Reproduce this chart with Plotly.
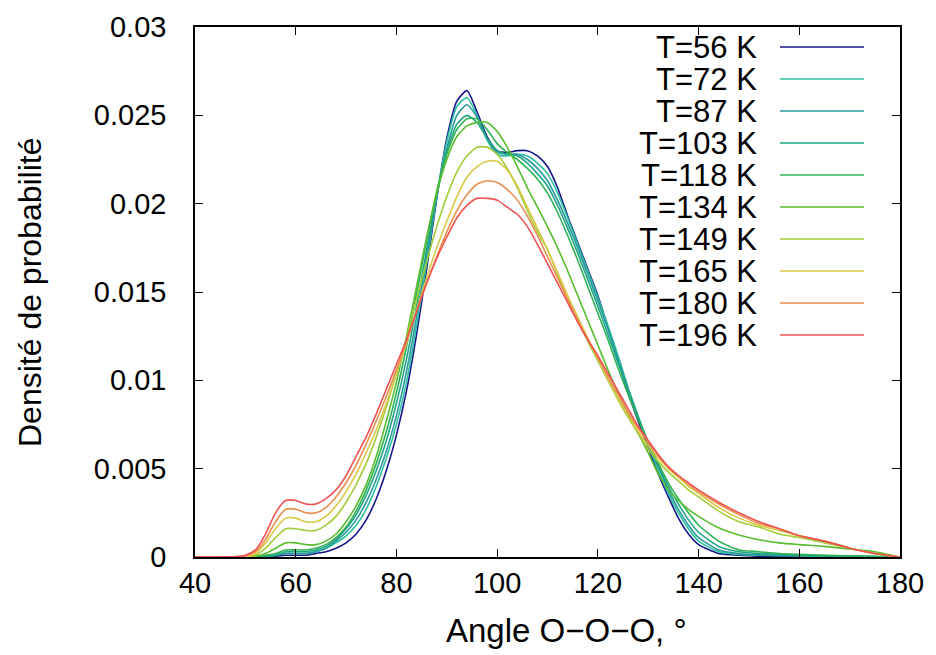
import plotly.graph_objects as go

# Angle grid (degrees)
angles = [40, 45, 48, 50, 52, 54, 56, 58, 60, 62, 64, 66, 68, 70, 72, 74, 76, 78, 80,
          82, 84, 86, 88, 90, 92, 94, 96, 98, 100, 102, 104, 106, 108, 110, 112, 114,
          116, 118, 120, 122, 124, 126, 128, 130, 132, 134, 136, 138, 140, 144, 148,
          152, 156, 160, 165, 170, 175, 180]

labels = ["T=56 K", "T=72 K", "T=87 K", "T=103 K", "T=118 K",
          "T=134 K", "T=149 K", "T=165 K", "T=180 K", "T=196 K"]
colors = ["#15158c", "#2cc0a0", "#2a9a9c", "#20a585", "#2fb256",
          "#58bd2e", "#a2cc3a", "#d8c846", "#ea8f4f", "#ef5252"]

t56 = [0, 0, 0, 0, 0, 0, 0.00005, 0.0001, 0.0001, 0.0001, 0.0002, 0.0003, 0.0005, 0.0008, 0.0013,
       0.0021, 0.0033, 0.0049, 0.0069, 0.0094, 0.0126, 0.0163, 0.0203, 0.0237, 0.0258, 0.0264,
       0.0252, 0.0238, 0.0230, 0.0229, 0.0230, 0.0230, 0.0227, 0.0221, 0.0209, 0.0193, 0.0178,
       0.0163, 0.0148, 0.0130, 0.0112, 0.0093, 0.0077, 0.0062, 0.0047, 0.0034, 0.0022, 0.0013,
       0.0007, 0.0002, 0.0001, 0.00005, 0.00003, 0.00002, 0.00001, 0, 0, 0]
t72 = [0, 0, 0, 0, 0, 0.00002, 0.0001, 0.0002, 0.0002, 0.0002, 0.0003, 0.0005, 0.0008, 0.0012,
       0.0018, 0.0027, 0.0040, 0.0056, 0.0075, 0.0099, 0.0131, 0.0166, 0.0204, 0.0235, 0.0255,
       0.0260, 0.0250, 0.0236, 0.0228, 0.0227, 0.0228, 0.0227, 0.0223, 0.0217, 0.0206, 0.0192,
       0.0177, 0.0162, 0.0147, 0.0131, 0.0114, 0.0096, 0.0080, 0.0064, 0.0049, 0.0036, 0.0025,
       0.0016, 0.0009, 0.0003, 0.00015, 0.0001, 0.00008, 0.00006, 0.00004, 0.00002, 0.00001, 0]
t87 = [0, 0, 0, 0, 0, 0, 0.0001, 0.0002, 0.0002, 0.0002, 0.0003, 0.0005, 0.0009, 0.0014,
       0.0021, 0.0031, 0.0044, 0.0060, 0.0080, 0.0105, 0.0136, 0.0170, 0.0204, 0.0231, 0.0250,
       0.0256, 0.0249, 0.0237, 0.0229, 0.0228, 0.0228, 0.0225, 0.0220, 0.0213, 0.0202, 0.0189,
       0.0175, 0.0160, 0.0145, 0.0129, 0.0112, 0.0095, 0.0079, 0.0064, 0.0051, 0.0038, 0.0027,
       0.0018, 0.0011, 0.0004, 0.0002, 0.00012, 0.0001, 0.00008, 0.00006, 0.00004, 0.00002, 0]
t103 = [0, 0, 0, 0, 0, 0.00005, 0.0001, 0.0003, 0.0003, 0.0003, 0.0004, 0.0006, 0.0010, 0.0016,
        0.0024, 0.0035, 0.0049, 0.0066, 0.0087, 0.0112, 0.0142, 0.0174, 0.0205, 0.0229, 0.0245,
        0.0250, 0.0246, 0.0237, 0.0230, 0.0228, 0.0227, 0.0223, 0.0217, 0.0210, 0.0199, 0.0186,
        0.0172, 0.0157, 0.0142, 0.0126, 0.0110, 0.0094, 0.0079, 0.0065, 0.0052, 0.0040, 0.0030,
        0.0021, 0.0014, 0.0006, 0.0003, 0.0002, 0.00015, 0.0001, 0.00008, 0.00005, 0.00002, 0]
t118 = [0, 0, 0, 0, 0, 0.0001, 0.0002, 0.0004, 0.0004, 0.0004, 0.0005, 0.0007, 0.0011, 0.0017,
        0.0026, 0.0038, 0.0053, 0.0071, 0.0093, 0.0119, 0.0149, 0.0179, 0.0207, 0.0228, 0.0242,
        0.0248, 0.0248, 0.0242, 0.0234, 0.0229, 0.0225, 0.0220, 0.0214, 0.0206, 0.0195, 0.0182,
        0.0168, 0.0153, 0.0138, 0.0123, 0.0107, 0.0092, 0.0078, 0.0065, 0.0053, 0.0042, 0.0033,
        0.0025, 0.0018, 0.0009, 0.0004, 0.0003, 0.0002, 0.00015, 0.0001, 0.00007, 0.00003, 0]
t134 = [0, 0, 0, 0, 0.00005, 0.0002, 0.0005, 0.0008, 0.0008, 0.0007, 0.0007, 0.0009, 0.0013, 0.0020,
        0.0029, 0.0041, 0.0057, 0.0077, 0.0099, 0.0125, 0.0153, 0.0181, 0.0206, 0.0225, 0.0238,
        0.0244, 0.0246, 0.0246, 0.0241, 0.0232, 0.0221, 0.0209, 0.0198, 0.0187, 0.0175, 0.0162,
        0.0148, 0.0134, 0.0120, 0.0106, 0.0093, 0.0081, 0.0070, 0.0059, 0.0047, 0.0038, 0.0032,
        0.0027, 0.0023, 0.00165, 0.00125, 0.00098, 0.0008, 0.0007, 0.0006, 0.00045, 0.0003, 0]
t149 = [0, 0, 0, 0, 0.0001, 0.0005, 0.0011, 0.0016, 0.0016, 0.0015, 0.0015, 0.0018, 0.0023, 0.0031,
        0.0041, 0.0053, 0.0068, 0.0085, 0.0104, 0.0124, 0.0146, 0.0167, 0.0187, 0.0204, 0.0218,
        0.0227, 0.0232, 0.0232, 0.0228, 0.0220, 0.0209, 0.0196, 0.0184, 0.0174, 0.0160, 0.0146,
        0.0134, 0.0122, 0.0111, 0.0100, 0.0089, 0.0079, 0.0070, 0.0061, 0.0054, 0.0048, 0.0043,
        0.0038, 0.0034, 0.0026, 0.0020, 0.0017, 0.0013, 0.0011, 0.0008, 0.0005, 0.0002, 0]
t165 = [0, 0, 0, 0, 0.0002, 0.0008, 0.0016, 0.0022, 0.0022, 0.0020, 0.0020, 0.0023, 0.0029, 0.0037,
        0.0047, 0.0059, 0.0072, 0.0087, 0.0104, 0.0121, 0.0140, 0.0158, 0.0175, 0.0190, 0.0204,
        0.0215, 0.0221, 0.0224, 0.0224, 0.0219, 0.0210, 0.0198, 0.0186, 0.0174, 0.0161, 0.0148,
        0.0136, 0.0124, 0.0112, 0.0101, 0.0090, 0.0080, 0.0071, 0.0063, 0.0056, 0.0050, 0.0045,
        0.0040, 0.0036, 0.0028, 0.0022, 0.0018, 0.0015, 0.0012, 0.0009, 0.0005, 0.0002, 0]
t180 = [0, 0, 0, 0.00005, 0.0003, 0.0010, 0.0020, 0.0027, 0.0027, 0.0025, 0.0025, 0.0028, 0.0034, 0.0042,
        0.0052, 0.0064, 0.0077, 0.0091, 0.0106, 0.0122, 0.0139, 0.0155, 0.0170, 0.0184, 0.0196,
        0.0205, 0.0211, 0.0213, 0.0212, 0.0208, 0.0202, 0.0193, 0.0182, 0.0170, 0.0158, 0.0146,
        0.0134, 0.0123, 0.0113, 0.0102, 0.0092, 0.0082, 0.0073, 0.0065, 0.0057, 0.0051, 0.0046,
        0.0041, 0.0037, 0.0030, 0.0024, 0.0019, 0.0016, 0.0012, 0.0009, 0.0005, 0.0002, 0]
t196 = [0, 0, 0.00002, 0.0001, 0.0004, 0.0013, 0.0025, 0.0032, 0.0032, 0.0030, 0.0030, 0.0033, 0.0038, 0.0046,
        0.0057, 0.0068, 0.0081, 0.0095, 0.0109, 0.0123, 0.0139, 0.0155, 0.0169, 0.0181, 0.0192,
        0.0199, 0.0203, 0.0203, 0.0202, 0.0198, 0.0194, 0.0187, 0.0177, 0.0166, 0.0155, 0.0144,
        0.0133, 0.0123, 0.0114, 0.0104, 0.0094, 0.0084, 0.0074, 0.0066, 0.0058, 0.0051, 0.0046,
        0.0042, 0.0038, 0.0031, 0.0025, 0.0020, 0.0016, 0.0012, 0.0009, 0.0005, 0.0002, 0]

series = [t56, t72, t87, t103, t118, t134, t149, t165, t180, t196]

x_ticks = [40, 60, 80, 100, 120, 140, 160, 180]
y_ticks = [0, 0.005, 0.01, 0.015, 0.02, 0.025, 0.03]
y_ticktext = ["0", "0.005", "0.01", "0.015", "0.02", "0.025", "0.03"]

FONT = "Liberation Sans, Arial, sans-serif"
FS_TICK = 29
FS_TEXT = 32
FS_KEY = 31

fig = go.Figure()
for name, ys, col in zip(labels, series, colors):
    fig.add_trace(go.Scatter(x=angles, y=ys, mode="lines", name=name,
                             line=dict(color=col, width=1.6, shape="spline", smoothing=0.6),
                             showlegend=False))

# geometry in pixels
W, H = 936, 655
L, R, T, B = 195, 900, 27, 557
pw, ph = R - L, B - T

def px(x):
    return (x - L) / pw

def py(y):
    return (B - y) / ph

# gnuplot style key: right-aligned text, sample line on the right
shapes = []
annotations = []
row0, dy = 47, 32
for i, (name, col) in enumerate(zip(labels, colors)):
    yy = row0 + i * dy
    annotations.append(dict(x=px(758), y=py(yy), xref="paper", yref="paper",
                            text=name, showarrow=False, xanchor="right", yanchor="middle",
                            height=30, borderpad=0,
                            font=dict(family=FONT, size=FS_KEY, color="black")))
    shapes.append(dict(type="line", xref="paper", yref="paper",
                       x0=px(780), x1=px(864), y0=py(yy), y1=py(yy),
                       line=dict(color=col, width=1.6)))

annotations.append(dict(x=px(30), y=py(292), xref="paper", yref="paper",
                        text="Densité de probabilité", textangle=-90, showarrow=False,
                        xanchor="center", yanchor="middle",
                        font=dict(family=FONT, size=FS_TEXT, color="black")))
annotations.append(dict(x=px(566), y=py(630), xref="paper", yref="paper",
                        text="Angle O\u2212O\u2212O, °", showarrow=False,
                        xanchor="center", yanchor="middle",
                        font=dict(family=FONT, size=33, color="black")))

fig.update_layout(
    width=W, height=H,
    margin=dict(l=L, r=W - R, t=T, b=H - B, pad=0, autoexpand=False),
    paper_bgcolor="white", plot_bgcolor="white",
    font=dict(family=FONT, size=FS_TICK, color="black"),
    shapes=shapes, annotations=annotations,
    showlegend=False,
)
fig.update_xaxes(range=[40, 180], tickvals=x_ticks, ticks="inside", ticklen=8,
                 tickwidth=1.3, tickcolor="black", showline=True, linecolor="black",
                 linewidth=1.5, mirror="ticks", showgrid=False, zeroline=False,
                 ticklabelstandoff=-1, automargin=False)
fig.update_yaxes(range=[0, 0.03], tickvals=y_ticks, ticktext=y_ticktext, ticks="inside",
                 ticklen=8, tickwidth=1.3, tickcolor="black", showline=True,
                 linecolor="black", linewidth=1.5, mirror="ticks", showgrid=False,
                 zeroline=False, ticklabelstandoff=21, automargin=False)

fig.write_html("out.html", config={"displayModeBar": False},
               post_script="document.body.style.margin='0';")
